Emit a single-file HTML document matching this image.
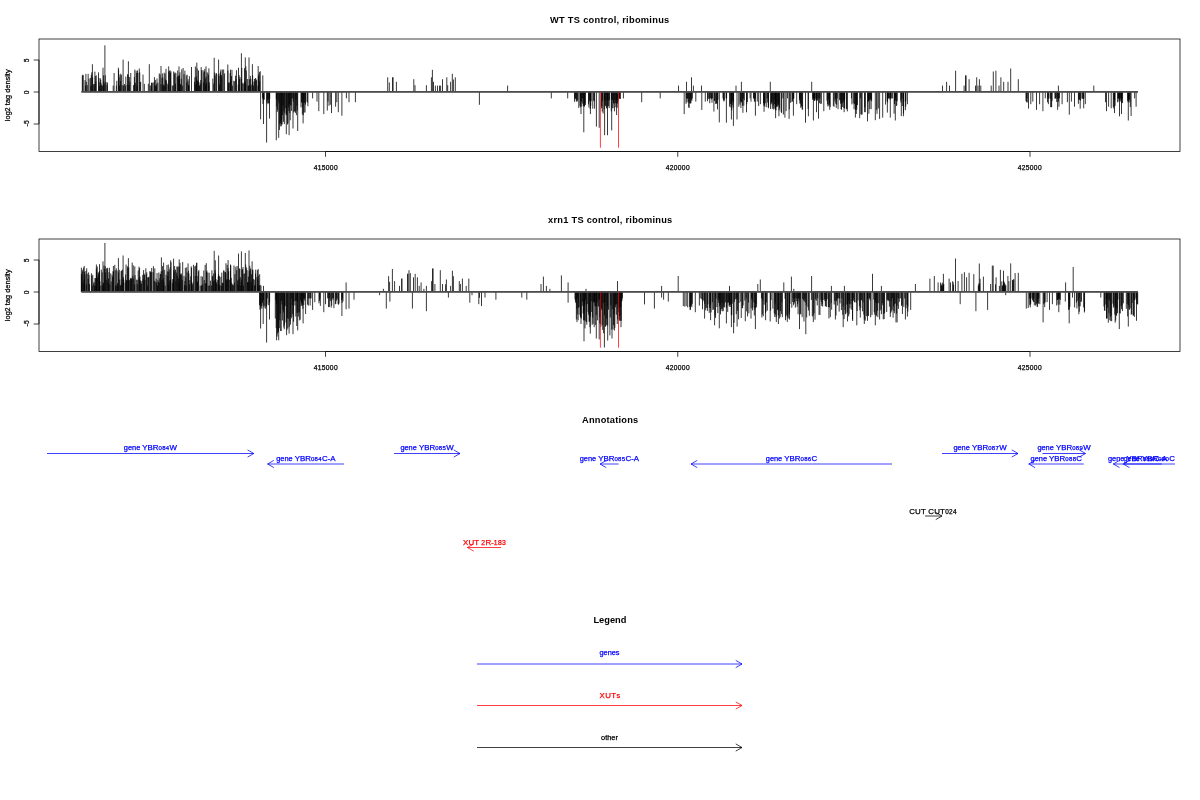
<!DOCTYPE html>
<html><head><meta charset="utf-8"><title>tracks</title>
<style>
html,body{margin:0;padding:0;background:#fff;overflow:hidden;width:1200px;height:800px;}
svg{display:block;font-family:"Liberation Sans", sans-serif;will-change:transform;transform:translateZ(0);}
</style></head><body>
<svg width="1200" height="800" viewBox="0 0 1200 800">
<rect width="1200" height="800" fill="#fff"/>
<rect x="39.0" y="39.0" width="1141.0" height="112.5" fill="none" stroke="#000" stroke-width="0.75"/>
<path d="M325.5 151.5H1030.0" stroke="#000" stroke-width="0.75" fill="none"/>
<path d="M325.5 151.5v5.3" stroke="#000" stroke-width="0.75" fill="none"/>
<text x="325.8" y="169.8" font-size="7.4" text-anchor="middle" stroke="#000" stroke-width="0.25"><tspan font-size="6.7" letter-spacing="0.33">415000</tspan></text>
<path d="M677.75 151.5v5.3" stroke="#000" stroke-width="0.75" fill="none"/>
<text x="677.8" y="169.8" font-size="7.4" text-anchor="middle" stroke="#000" stroke-width="0.25"><tspan font-size="6.7" letter-spacing="0.33">420000</tspan></text>
<path d="M1030.0 151.5v5.3" stroke="#000" stroke-width="0.75" fill="none"/>
<text x="1029.8" y="169.8" font-size="7.4" text-anchor="middle" stroke="#000" stroke-width="0.25"><tspan font-size="6.7" letter-spacing="0.33">425000</tspan></text>
<path d="M39.0 60.0V124.0" stroke="#000" stroke-width="0.75" fill="none"/>
<path d="M39.0 60.0h-5.3" stroke="#000" stroke-width="0.75" fill="none"/>
<text transform="translate(28.9 60.2) rotate(-90)" font-size="7.4" text-anchor="middle" stroke="#000" stroke-width="0.25"><tspan font-size="6.7" letter-spacing="0.33">5</tspan></text>
<path d="M39.0 92.0h-5.3" stroke="#000" stroke-width="0.75" fill="none"/>
<text transform="translate(28.9 92.2) rotate(-90)" font-size="7.4" text-anchor="middle" stroke="#000" stroke-width="0.25"><tspan font-size="6.7" letter-spacing="0.33">0</tspan></text>
<path d="M39.0 124.0h-5.3" stroke="#000" stroke-width="0.75" fill="none"/>
<text transform="translate(28.9 123.3) rotate(-90)" font-size="7.4" text-anchor="middle" stroke="#000" stroke-width="0.25"><tspan font-size="7.4">-</tspan><tspan font-size="6.7" letter-spacing="0.33">5</tspan></text>
<text transform="translate(10.2 95.25) rotate(-90)" font-size="7.4" text-anchor="middle" stroke="#000" stroke-width="0.25"><tspan font-size="7.4">log</tspan><tspan font-size="6.7" letter-spacing="0.33">2</tspan><tspan font-size="7.4">&#160;tag&#160;density</tspan></text>
<text x="609.8" y="22.8" font-size="9.25" font-weight="bold" text-anchor="middle" letter-spacing="0.29">WT TS control, ribominus</text>
<path d="M742.45 92.0V105.7M742.90 92.0V112.8M743.35 92.0V98.4M744.25 92.0V100.3M746.50 92.0V112.3M747.40 92.0V102.0M750.10 92.0V98.4M757.30 92.0V101.6M758.65 92.0V106.1M764.05 92.0V111.8M766.75 92.0V107.3M767.20 92.0V98.4M767.65 92.0V102.5M768.55 92.0V106.8M775.75 92.0V105.2M778.90 92.0V116.2M781.15 92.0V111.9M782.95 92.0V98.4M783.40 92.0V114.5M786.10 92.0V111.1M787.45 92.0V98.4M789.25 92.0V109.4M790.60 92.0V102.8M799.60 92.0V98.4M808.15 92.0V108.9M814.45 92.0V101.0M818.50 92.0V118.7M829.30 92.0V103.5M829.75 92.0V109.8M833.35 92.0V106.0M844.15 92.0V112.2M844.60 92.0V108.4M854.05 92.0V109.2M854.50 92.0V104.2M855.40 92.0V117.6M856.30 92.0V114.0M857.20 92.0V105.0M860.35 92.0V98.4M861.25 92.0V114.8M862.15 92.0V114.4M864.85 92.0V107.3M865.30 92.0V112.1M868.90 92.0V113.8M871.15 92.0V109.2M877.00 92.0V113.9M878.35 92.0V108.5M885.55 92.0V104.6M887.35 92.0V112.6M887.80 92.0V98.4M894.10 92.0V113.7M900.85 92.0V100.3M901.30 92.0V116.1M903.55 92.0V113.4M905.35 92.0V110.2M905.80 92.0V101.1M82.30 92.0V75.7M82.75 92.0V74.7M83.20 92.0V75.2M85.00 92.0V80.1M85.45 92.0V85.6M85.90 92.0V73.8M86.35 92.0V81.9M87.25 92.0V85.1M88.15 92.0V73.8M89.05 92.0V78.6M90.40 92.0V78.0M90.85 92.0V85.6M91.30 92.0V74.8M91.75 92.0V72.3M92.65 92.0V77.3M93.55 92.0V84.2M94.45 92.0V84.1M94.90 92.0V71.6M95.35 92.0V76.0M95.80 92.0V81.7M96.25 92.0V75.4M98.50 92.0V72.4M98.95 92.0V77.9M99.40 92.0V85.6M99.85 92.0V82.0M100.30 92.0V78.3M100.75 92.0V79.6M101.20 92.0V83.3M101.65 92.0V85.6M102.10 92.0V85.6M103.00 92.0V85.6M103.45 92.0V75.3M103.90 92.0V81.4M104.80 92.0V83.5M105.25 92.0V75.2M106.15 92.0V82.1M107.05 92.0V85.1M107.50 92.0V82.5M113.20 92.0V85.6M114.10 92.0V73.0M116.35 92.0V85.6M116.80 92.0V80.8M118.60 92.0V69.8M119.05 92.0V77.3M119.50 92.0V85.6M119.95 92.0V74.6M120.40 92.0V80.9M120.85 92.0V73.6M121.30 92.0V75.0M122.20 92.0V85.0M123.55 92.0V85.6M124.45 92.0V84.0M125.35 92.0V85.6M125.80 92.0V76.6M127.15 92.0V84.6M127.60 92.0V74.1M128.05 92.0V75.2M128.95 92.0V85.0M129.40 92.0V77.0M129.85 92.0V81.6M130.75 92.0V73.0M133.45 92.0V85.1M134.35 92.0V76.9M134.80 92.0V82.4M135.25 92.0V83.2M136.15 92.0V70.7M136.60 92.0V72.9M137.05 92.0V85.6M137.50 92.0V70.4M137.95 92.0V72.9M139.30 92.0V68.5M139.75 92.0V72.4M140.20 92.0V81.8M140.65 92.0V81.9M143.00 92.0V74.6M144.35 92.0V83.8M148.35 92.0V83.8M150.15 92.0V85.6M151.05 92.0V85.6M151.50 92.0V82.9M151.95 92.0V82.4M152.85 92.0V83.0M154.00 92.0V82.1M154.45 92.0V77.1M154.90 92.0V85.6M155.35 92.0V79.9M155.80 92.0V85.5M156.25 92.0V85.6M156.70 92.0V83.5M157.00 92.0V78.5M157.90 92.0V82.6M159.25 92.0V73.4M160.15 92.0V74.5M161.05 92.0V84.2M161.95 92.0V78.0M162.40 92.0V73.4M162.85 92.0V77.3M163.30 92.0V85.6M163.75 92.0V84.3M164.20 92.0V72.7M164.65 92.0V85.6M165.10 92.0V73.6M165.55 92.0V79.5M166.00 92.0V68.8M166.45 92.0V80.4M167.80 92.0V83.6M168.25 92.0V85.6M168.70 92.0V71.6M169.60 92.0V70.9M170.05 92.0V70.3M170.50 92.0V72.9M170.95 92.0V71.4M172.30 92.0V85.5M173.20 92.0V85.6M173.65 92.0V71.5M174.55 92.0V73.6M175.00 92.0V72.4M175.45 92.0V83.8M175.90 92.0V73.1M177.25 92.0V77.0M177.70 92.0V70.5M178.15 92.0V75.4M178.60 92.0V76.2M179.05 92.0V78.7M179.50 92.0V75.3M179.95 92.0V72.3M180.40 92.0V83.9M180.85 92.0V84.9M181.30 92.0V78.7M181.75 92.0V69.3M182.65 92.0V85.6M183.10 92.0V68.0M184.90 92.0V70.6M186.25 92.0V75.4M186.70 92.0V82.8M187.15 92.0V74.6M188.05 92.0V81.3M188.50 92.0V85.0M188.95 92.0V85.6M189.40 92.0V76.2M194.45 92.0V81.7M194.90 92.0V77.4M195.35 92.0V66.5M195.80 92.0V84.0M196.25 92.0V76.4M196.70 92.0V79.4M197.15 92.0V68.4M197.60 92.0V80.9M198.05 92.0V80.5M198.50 92.0V70.4M198.95 92.0V82.1M199.40 92.0V85.6M199.85 92.0V85.6M200.30 92.0V83.7M200.75 92.0V80.1M201.20 92.0V67.1M201.65 92.0V70.2M203.00 92.0V70.1M203.45 92.0V82.4M203.90 92.0V72.3M204.35 92.0V71.1M204.80 92.0V68.8M205.25 92.0V78.4M205.70 92.0V84.4M206.15 92.0V76.6M206.60 92.0V82.5M207.05 92.0V72.2M207.95 92.0V73.1M208.40 92.0V75.0M208.85 92.0V85.6M209.30 92.0V82.2M212.85 92.0V78.5M213.75 92.0V83.5M214.65 92.0V72.5M215.10 92.0V75.7M216.00 92.0V73.6M216.45 92.0V73.2M218.25 92.0V74.2M219.15 92.0V75.8M219.60 92.0V84.4M220.05 92.0V73.4M220.50 92.0V71.4M220.95 92.0V69.4M221.40 92.0V74.9M221.85 92.0V76.5M223.65 92.0V69.5M224.55 92.0V73.4M227.90 92.0V70.5M228.35 92.0V82.4M228.80 92.0V83.5M229.70 92.0V82.3M230.15 92.0V73.1M230.60 92.0V80.8M231.50 92.0V76.1M231.95 92.0V69.8M232.40 92.0V85.6M233.75 92.0V80.8M234.65 92.0V81.3M235.55 92.0V75.7M236.00 92.0V79.5M236.45 92.0V70.2M238.25 92.0V84.5M239.15 92.0V75.2M239.60 92.0V79.0M240.00 92.0V77.1M241.35 92.0V79.1M241.80 92.0V67.9M242.25 92.0V83.0M243.15 92.0V83.9M244.05 92.0V82.5M244.50 92.0V68.2M244.95 92.0V81.5M245.40 92.0V83.5M245.85 92.0V66.3M246.30 92.0V70.5M247.65 92.0V79.0M248.10 92.0V85.6M248.55 92.0V85.6M249.45 92.0V79.2M249.90 92.0V85.6M250.35 92.0V75.8M250.80 92.0V78.9M251.25 92.0V84.7M252.60 92.0V75.4M253.05 92.0V81.6M253.50 92.0V85.6M254.40 92.0V79.0M254.85 92.0V81.5M255.30 92.0V78.1M255.75 92.0V78.3M256.20 92.0V80.7M256.65 92.0V79.7M258.00 92.0V85.6M258.45 92.0V76.2M258.90 92.0V74.2M259.35 92.0V72.0M259.80 92.0V81.4M260.25 92.0V71.2M262.50 92.0V98.4M262.95 92.0V104.0M263.40 92.0V99.8M264.30 92.0V99.7M267.00 92.0V102.8M267.45 92.0V100.5M267.90 92.0V104.2M268.35 92.0V103.1M268.80 92.0V99.1M269.25 92.0V103.2M269.70 92.0V98.9M276.30 92.0V99.1M276.75 92.0V106.5M277.20 92.0V112.1M277.65 92.0V110.1M278.10 92.0V100.8M279.00 92.0V103.3M279.45 92.0V129.9M279.90 92.0V124.3M280.35 92.0V122.6M280.80 92.0V126.5M281.25 92.0V126.1M281.70 92.0V119.4M282.15 92.0V124.5M282.60 92.0V115.2M283.00 92.0V105.3M283.45 92.0V121.8M283.90 92.0V111.3M284.35 92.0V124.1M284.80 92.0V113.2M285.25 92.0V108.2M286.15 92.0V115.2M286.60 92.0V114.5M287.50 92.0V124.5M287.95 92.0V123.3M288.40 92.0V107.3M288.85 92.0V110.9M289.30 92.0V103.8M289.75 92.0V113.0M290.20 92.0V120.3M290.65 92.0V105.5M291.00 92.0V105.0M291.45 92.0V110.9M291.90 92.0V98.4M292.80 92.0V98.5M293.25 92.0V101.7M293.70 92.0V112.6M294.60 92.0V111.6M295.05 92.0V111.1M295.50 92.0V112.8M295.95 92.0V99.7M296.40 92.0V115.2M296.85 92.0V105.9M297.30 92.0V110.3M301.00 92.0V107.4M301.45 92.0V102.0M301.90 92.0V102.9M302.35 92.0V114.4M302.80 92.0V106.8M303.25 92.0V115.3M303.70 92.0V102.7M304.15 92.0V112.5M304.60 92.0V103.0M305.05 92.0V112.5M305.50 92.0V104.7M305.95 92.0V101.9M307.45 92.0V102.5M307.90 92.0V106.2M574.50 92.0V101.7M574.95 92.0V98.4M575.40 92.0V98.4M575.85 92.0V99.3M576.30 92.0V101.7M576.75 92.0V100.6M577.20 92.0V101.6M577.65 92.0V100.1M580.00 92.0V105.8M580.45 92.0V107.2M580.90 92.0V101.0M581.35 92.0V101.6M581.80 92.0V106.5M582.25 92.0V98.4M582.70 92.0V103.6M583.15 92.0V98.4M583.60 92.0V106.2M584.05 92.0V106.1M584.50 92.0V106.6M584.95 92.0V103.3M585.40 92.0V105.1M588.50 92.0V104.4M588.95 92.0V107.6M589.40 92.0V100.2M589.85 92.0V101.8M590.30 92.0V109.1M590.75 92.0V105.8M591.20 92.0V101.2M592.80 92.0V108.7M593.70 92.0V100.7M594.15 92.0V101.3M594.60 92.0V108.7M601.30 92.0V108.3M601.75 92.0V106.4M602.20 92.0V111.6M602.65 92.0V101.1M603.10 92.0V113.6M604.20 92.0V109.1M604.65 92.0V100.2M605.10 92.0V105.0M605.55 92.0V106.1M606.00 92.0V100.6M606.45 92.0V107.9M606.90 92.0V108.6M607.35 92.0V99.4M607.80 92.0V105.9M608.25 92.0V100.5M608.70 92.0V106.2M609.15 92.0V108.1M609.60 92.0V100.2M611.30 92.0V111.4M611.75 92.0V99.0M612.20 92.0V108.2M612.65 92.0V100.1M613.10 92.0V108.2M613.55 92.0V103.3M614.00 92.0V103.5M614.45 92.0V111.4M614.90 92.0V100.1M615.35 92.0V102.9M615.80 92.0V107.3M616.25 92.0V103.7M616.70 92.0V99.8M617.15 92.0V107.8M617.60 92.0V103.5M618.05 92.0V100.7M619.00 92.0V98.4M619.45 92.0V98.4M619.90 92.0V98.9M620.35 92.0V98.9M686.00 92.0V103.8M686.45 92.0V98.4M686.90 92.0V102.3M687.35 92.0V98.4M687.80 92.0V99.0M688.25 92.0V102.3M688.70 92.0V107.3M689.15 92.0V108.0M689.60 92.0V103.3M690.05 92.0V98.4M690.50 92.0V103.5M690.95 92.0V103.2M691.40 92.0V99.7M691.85 92.0V100.9M692.30 92.0V98.4M707.50 92.0V101.2M707.95 92.0V98.4M708.85 92.0V99.2M709.30 92.0V98.4M709.75 92.0V103.2M710.65 92.0V98.4M711.10 92.0V98.4M711.55 92.0V99.3M712.00 92.0V102.7M712.45 92.0V98.4M713.90 92.0V111.6M714.35 92.0V100.8M714.80 92.0V101.0M715.70 92.0V103.9M716.15 92.0V103.6M716.60 92.0V103.0M717.05 92.0V104.1M717.50 92.0V109.4M717.95 92.0V99.8M723.00 92.0V98.4M723.45 92.0V100.2M723.90 92.0V101.5M724.35 92.0V100.5M726.15 92.0V98.4M726.60 92.0V98.4M729.50 92.0V106.6M730.40 92.0V103.9M730.85 92.0V107.5M731.30 92.0V103.4M731.75 92.0V110.4M732.20 92.0V105.2M732.65 92.0V101.2M733.10 92.0V107.7M733.55 92.0V102.6M740.00 92.0V104.5M740.45 92.0V101.7M740.90 92.0V108.1M741.35 92.0V101.9M741.80 92.0V102.4M753.50 92.0V98.4M753.95 92.0V98.4M754.40 92.0V101.7M754.85 92.0V101.3M755.30 92.0V98.7M763.50 92.0V103.4M763.95 92.0V105.8M764.40 92.0V105.3M764.85 92.0V106.9M765.30 92.0V103.2M770.60 92.0V109.0M771.05 92.0V104.3M771.50 92.0V102.5M771.95 92.0V103.5M772.40 92.0V108.7M772.85 92.0V101.3M773.30 92.0V105.6M773.75 92.0V109.5M774.20 92.0V108.6M774.65 92.0V104.0M775.10 92.0V99.7M775.55 92.0V109.5M776.00 92.0V110.4M776.45 92.0V106.9M776.90 92.0V105.9M777.35 92.0V106.8M777.80 92.0V103.4M778.25 92.0V105.6M778.70 92.0V104.7M779.15 92.0V110.4M779.60 92.0V108.3M792.00 92.0V102.0M792.45 92.0V101.2M792.90 92.0V98.7M793.35 92.0V99.2M793.80 92.0V98.4M799.45 92.0V100.3M799.90 92.0V103.5M800.35 92.0V103.5M800.80 92.0V107.9M801.25 92.0V106.5M801.70 92.0V106.2M802.15 92.0V109.6M802.60 92.0V109.6M812.60 92.0V99.7M813.05 92.0V98.4M813.50 92.0V98.4M813.95 92.0V100.3M814.40 92.0V98.4M814.85 92.0V100.2M815.75 92.0V98.8M816.20 92.0V100.5M816.65 92.0V100.3M817.10 92.0V98.7M817.55 92.0V100.6M819.00 92.0V98.4M819.45 92.0V103.2M819.90 92.0V98.5M820.80 92.0V104.0M821.25 92.0V103.6M827.00 92.0V100.7M827.45 92.0V104.3M827.90 92.0V106.5M828.35 92.0V99.3M828.80 92.0V105.6M829.25 92.0V104.8M830.15 92.0V107.0M834.00 92.0V106.8M834.90 92.0V101.5M835.35 92.0V99.0M835.80 92.0V103.8M836.25 92.0V107.9M836.70 92.0V104.6M837.15 92.0V98.4M838.05 92.0V109.2M839.70 92.0V99.9M840.15 92.0V100.6M840.60 92.0V103.7M841.05 92.0V109.1M841.50 92.0V109.8M841.95 92.0V103.1M842.40 92.0V107.0M842.85 92.0V103.1M843.30 92.0V100.5M843.75 92.0V108.0M844.20 92.0V101.4M844.65 92.0V99.6M846.45 92.0V109.3M846.90 92.0V108.7M847.35 92.0V111.4M851.45 92.0V98.4M851.90 92.0V104.4M853.25 92.0V103.3M855.40 92.0V109.8M856.30 92.0V107.5M856.75 92.0V109.9M857.20 92.0V104.9M868.00 92.0V102.2M868.45 92.0V101.1M868.90 92.0V101.0M869.35 92.0V99.6M869.80 92.0V109.0M870.25 92.0V98.7M870.70 92.0V100.3M871.15 92.0V99.2M871.60 92.0V101.2M887.15 92.0V101.3M887.60 92.0V102.3M888.05 92.0V98.4M888.50 92.0V98.4M889.60 92.0V98.4M890.05 92.0V99.7M890.50 92.0V98.4M890.95 92.0V98.4M891.85 92.0V98.4M892.30 92.0V98.4M894.50 92.0V104.0M894.95 92.0V100.4M895.40 92.0V98.4M895.85 92.0V100.8M896.30 92.0V106.0M896.75 92.0V105.4M897.20 92.0V101.1M901.00 92.0V102.5M901.90 92.0V98.4M902.35 92.0V106.1M903.70 92.0V101.8M1026.00 92.0V100.9M1026.45 92.0V102.2M1026.90 92.0V98.4M1027.35 92.0V102.4M1047.50 92.0V102.3M1047.95 92.0V98.6M1048.40 92.0V104.2M1048.85 92.0V98.4M1050.30 92.0V98.8M1050.75 92.0V107.2M1051.20 92.0V107.2M1051.65 92.0V107.0M1052.10 92.0V100.8M1054.95 92.0V98.6M1055.40 92.0V98.4M1055.85 92.0V98.4M1056.70 92.0V102.0M1057.15 92.0V98.4M1057.60 92.0V109.8M1058.05 92.0V98.4M1058.50 92.0V101.6M1058.95 92.0V106.7M1059.40 92.0V98.4M1078.40 92.0V103.8M1078.85 92.0V99.5M1079.30 92.0V99.3M1079.75 92.0V100.0M1080.20 92.0V108.7M1080.65 92.0V100.7M1082.00 92.0V98.4M1082.45 92.0V98.8M1083.35 92.0V99.0M1083.80 92.0V98.4M1113.30 92.0V107.0M1113.75 92.0V108.6M1114.20 92.0V99.1M1114.65 92.0V100.4M1115.10 92.0V105.9M1117.60 92.0V102.3M1118.05 92.0V98.7M1118.50 92.0V98.4M1118.95 92.0V101.6M1119.40 92.0V98.4M1119.85 92.0V100.2M1120.30 92.0V98.4M1120.75 92.0V101.5M1121.20 92.0V98.4M1121.65 92.0V102.9M1122.10 92.0V99.0M1122.55 92.0V103.1M1127.60 92.0V100.8M1128.05 92.0V102.4M1128.50 92.0V101.4M1128.95 92.0V98.7M1129.40 92.0V99.8M1129.85 92.0V102.3M1130.30 92.0V107.1M1134.65 92.0V98.4M92.40 92.0V64.2M104.90 92.0V45.3M103.00 92.0V67.7M118.40 92.0V67.7M123.10 92.0V59.6M128.40 92.0V61.3M134.80 92.0V69.6M149.30 92.0V64.2M161.00 92.0V66.0M168.70 92.0V66.4M179.00 92.0V66.4M184.00 92.0V74.1M188.00 92.0V79.2M191.50 92.0V67.0M196.80 92.0V62.6M206.00 92.0V66.4M208.90 92.0V68.3M214.20 92.0V57.8M218.60 92.0V59.6M222.40 92.0V69.6M227.80 92.0V64.5M230.50 92.0V69.6M238.50 92.0V67.7M241.40 92.0V53.2M245.30 92.0V57.4M249.00 92.0V57.4M252.40 92.0V64.2M258.20 92.0V66.0M262.80 92.0V75.4M260.60 92.0V119.3M263.50 92.0V124.0M266.60 92.0V142.6M269.50 92.0V118.6M276.30 92.0V140.3M278.70 92.0V137.8M281.30 92.0V124.0M286.30 92.0V134.2M289.10 92.0V135.2M293.00 92.0V128.5M297.70 92.0V131.0M303.10 92.0V123.4M312.60 92.0V98.4M317.00 92.0V101.6M318.80 92.0V111.2M323.80 92.0V114.1M327.30 92.0V110.6M329.00 92.0V105.8M331.50 92.0V113.1M328.00 92.0V101.6M330.30 92.0V104.8M335.60 92.0V106.7M336.80 92.0V102.2M338.30 92.0V112.2M341.90 92.0V115.7M346.40 92.0V98.4M349.00 92.0V102.2M355.40 92.0V102.2M387.70 92.0V77.3M389.30 92.0V82.4M392.50 92.0V77.3M393.10 92.0V77.3M396.40 92.0V81.8M413.80 92.0V79.2M415.00 92.0V85.2M426.40 92.0V85.2M431.40 92.0V77.3M432.40 92.0V69.8M433.50 92.0V81.8M435.40 92.0V85.6M437.50 92.0V85.6M439.50 92.0V85.6M440.60 92.0V85.6M442.50 92.0V79.2M446.80 92.0V77.3M447.70 92.0V85.2M450.60 92.0V81.8M452.30 92.0V73.8M453.40 92.0V79.5M455.30 92.0V77.3M479.40 92.0V104.8M507.60 92.0V85.6M551.30 92.0V98.4M567.70 92.0V98.4M578.80 92.0V108.0M581.00 92.0V114.1M583.80 92.0V132.3M596.40 92.0V126.6M599.20 92.0V127.8M590.40 92.0V114.1M604.60 92.0V135.2M607.50 92.0V135.2M611.70 92.0V130.4M616.60 92.0V115.0M623.40 92.0V98.4M641.70 92.0V102.2M660.20 92.0V98.4M678.50 92.0V85.6M686.50 92.0V81.8M691.50 92.0V77.3M693.40 92.0V85.6M701.50 92.0V85.6M736.00 92.0V85.6M741.40 92.0V81.8M770.30 92.0V81.8M811.70 92.0V81.8M684.20 92.0V114.1M695.80 92.0V101.6M701.80 92.0V109.9M705.30 92.0V101.6M719.30 92.0V122.4M726.40 92.0V122.7M731.40 92.0V119.5M733.40 92.0V125.9M737.00 92.0V119.5M738.80 92.0V106.7M743.80 92.0V105.8M746.70 92.0V104.2M751.00 92.0V101.6M755.40 92.0V115.7M760.40 92.0V104.2M768.50 92.0V108.3M775.60 92.0V118.2M781.60 92.0V113.1M784.90 92.0V117.6M789.10 92.0V118.9M793.40 92.0V115.7M796.70 92.0V104.2M805.50 92.0V122.7M808.40 92.0V116.3M813.40 92.0V120.5M816.50 92.0V112.2M823.80 92.0V111.2M859.70 92.0V118.2M861.00 92.0V114.1M864.60 92.0V112.2M867.50 92.0V121.4M875.30 92.0V120.2M876.70 92.0V109.9M879.60 92.0V118.9M882.70 92.0V117.6M890.30 92.0V117.6M895.30 92.0V120.5M903.40 92.0V116.3M905.70 92.0V106.7M907.40 92.0V104.2M942.50 92.0V85.6M946.60 92.0V81.8M949.50 92.0V85.6M955.60 92.0V70.7M964.10 92.0V85.6M965.50 92.0V75.4M966.10 92.0V75.4M969.10 92.0V79.2M975.50 92.0V85.6M976.70 92.0V77.3M978.00 92.0V85.6M979.40 92.0V79.2M980.80 92.0V85.6M991.20 92.0V85.6M993.30 92.0V71.5M995.90 92.0V70.7M999.00 92.0V85.6M1000.90 92.0V77.3M1003.70 92.0V81.8M1008.00 92.0V81.8M1010.70 92.0V68.5M1018.30 92.0V79.2M1058.40 92.0V85.6M1093.80 92.0V85.6M1028.50 92.0V108.6M1030.80 92.0V104.2M1032.80 92.0V101.6M1036.50 92.0V109.9M1039.60 92.0V104.2M1042.90 92.0V111.2M1045.30 92.0V98.4M1062.10 92.0V104.2M1067.40 92.0V102.2M1069.30 92.0V114.7M1071.40 92.0V101.6M1074.50 92.0V106.7M1083.70 92.0V108.3M1085.30 92.0V104.2M1105.50 92.0V102.2M1106.50 92.0V111.2M1108.60 92.0V106.7M1111.20 92.0V108.3M1114.50 92.0V113.1M1119.50 92.0V116.3M1121.50 92.0V114.1M1128.30 92.0V120.5M1131.10 92.0V116.0M1136.10 92.0V106.7" stroke="#000" stroke-width="0.78" fill="none"/>
<rect x="81.3" y="91.0" width="1056.7" height="1.8" fill="#4d4d4d"/>
<path d="M600.4 92.0V147.7" stroke="#f00" stroke-width="0.75" fill="none"/>
<path d="M618.5 92.0V147.7" stroke="#f00" stroke-width="0.75" fill="none"/>
<rect x="39.0" y="239.0" width="1141.0" height="112.5" fill="none" stroke="#000" stroke-width="0.75"/>
<path d="M325.5 351.5H1030.0" stroke="#000" stroke-width="0.75" fill="none"/>
<path d="M325.5 351.5v5.3" stroke="#000" stroke-width="0.75" fill="none"/>
<text x="325.8" y="369.8" font-size="7.4" text-anchor="middle" stroke="#000" stroke-width="0.25"><tspan font-size="6.7" letter-spacing="0.33">415000</tspan></text>
<path d="M677.75 351.5v5.3" stroke="#000" stroke-width="0.75" fill="none"/>
<text x="677.8" y="369.8" font-size="7.4" text-anchor="middle" stroke="#000" stroke-width="0.25"><tspan font-size="6.7" letter-spacing="0.33">420000</tspan></text>
<path d="M1030.0 351.5v5.3" stroke="#000" stroke-width="0.75" fill="none"/>
<text x="1029.8" y="369.8" font-size="7.4" text-anchor="middle" stroke="#000" stroke-width="0.25"><tspan font-size="6.7" letter-spacing="0.33">425000</tspan></text>
<path d="M39.0 260.0V324.0" stroke="#000" stroke-width="0.75" fill="none"/>
<path d="M39.0 260.0h-5.3" stroke="#000" stroke-width="0.75" fill="none"/>
<text transform="translate(28.9 260.2) rotate(-90)" font-size="7.4" text-anchor="middle" stroke="#000" stroke-width="0.25"><tspan font-size="6.7" letter-spacing="0.33">5</tspan></text>
<path d="M39.0 292.0h-5.3" stroke="#000" stroke-width="0.75" fill="none"/>
<text transform="translate(28.9 292.2) rotate(-90)" font-size="7.4" text-anchor="middle" stroke="#000" stroke-width="0.25"><tspan font-size="6.7" letter-spacing="0.33">0</tspan></text>
<path d="M39.0 324.0h-5.3" stroke="#000" stroke-width="0.75" fill="none"/>
<text transform="translate(28.9 323.3) rotate(-90)" font-size="7.4" text-anchor="middle" stroke="#000" stroke-width="0.25"><tspan font-size="7.4">-</tspan><tspan font-size="6.7" letter-spacing="0.33">5</tspan></text>
<text transform="translate(10.2 295.25) rotate(-90)" font-size="7.4" text-anchor="middle" stroke="#000" stroke-width="0.25"><tspan font-size="7.4">log</tspan><tspan font-size="6.7" letter-spacing="0.33">2</tspan><tspan font-size="7.4">&#160;tag&#160;density</tspan></text>
<text x="610.3" y="222.8" font-size="9.25" font-weight="bold" text-anchor="middle" letter-spacing="0.26">xrn1 TS control, ribominus</text>
<path d="M81.40 292.0V273.9M81.85 292.0V276.2M82.30 292.0V271.5M82.75 292.0V269.7M83.20 292.0V283.3M83.65 292.0V267.6M84.10 292.0V279.6M84.55 292.0V271.7M85.00 292.0V274.5M85.90 292.0V271.0M86.35 292.0V284.5M87.25 292.0V273.7M88.15 292.0V278.9M88.60 292.0V272.4M89.05 292.0V274.9M89.50 292.0V284.1M91.40 292.0V273.3M91.85 292.0V275.8M92.30 292.0V285.6M92.75 292.0V274.8M93.65 292.0V283.3M94.10 292.0V281.9M94.55 292.0V285.6M95.00 292.0V278.0M95.45 292.0V278.2M95.90 292.0V285.6M96.35 292.0V268.6M96.80 292.0V272.0M97.25 292.0V266.6M97.70 292.0V277.5M98.15 292.0V274.9M98.60 292.0V272.8M99.05 292.0V271.8M99.50 292.0V271.2M99.95 292.0V281.2M100.85 292.0V285.6M101.30 292.0V269.6M102.20 292.0V272.4M102.65 292.0V285.3M103.10 292.0V282.5M103.55 292.0V283.2M104.00 292.0V265.5M104.45 292.0V268.9M105.35 292.0V272.5M106.25 292.0V279.8M106.70 292.0V268.3M107.15 292.0V269.1M107.60 292.0V267.8M108.05 292.0V282.6M108.50 292.0V278.5M108.95 292.0V272.2M109.40 292.0V267.8M109.85 292.0V284.5M110.75 292.0V273.3M111.20 292.0V281.4M112.10 292.0V274.9M112.55 292.0V276.9M113.00 292.0V271.2M113.45 292.0V271.6M114.80 292.0V264.8M115.25 292.0V270.3M115.70 292.0V285.6M116.15 292.0V285.6M117.05 292.0V270.5M117.50 292.0V283.0M117.95 292.0V285.6M118.40 292.0V272.5M119.30 292.0V269.8M119.75 292.0V279.5M120.20 292.0V284.9M120.65 292.0V285.6M121.10 292.0V271.1M121.55 292.0V270.6M122.00 292.0V283.2M122.45 292.0V269.6M122.90 292.0V278.8M123.35 292.0V277.0M123.80 292.0V279.6M125.15 292.0V282.6M125.60 292.0V274.5M126.05 292.0V264.5M126.50 292.0V280.2M126.95 292.0V280.3M127.40 292.0V266.3M127.85 292.0V267.9M128.30 292.0V279.9M128.75 292.0V267.3M129.65 292.0V280.2M130.10 292.0V279.4M130.55 292.0V277.9M131.00 292.0V279.1M131.45 292.0V278.5M131.90 292.0V278.4M132.80 292.0V275.7M133.25 292.0V265.3M133.70 292.0V278.4M134.60 292.0V284.4M135.05 292.0V275.2M136.40 292.0V279.6M137.30 292.0V284.1M137.75 292.0V279.9M138.20 292.0V270.5M139.10 292.0V277.9M139.55 292.0V268.0M140.00 292.0V276.6M140.45 292.0V280.4M140.90 292.0V283.3M141.35 292.0V283.8M141.80 292.0V280.9M142.70 292.0V274.9M143.15 292.0V279.2M143.60 292.0V270.1M144.05 292.0V273.6M144.50 292.0V274.9M144.95 292.0V280.0M145.85 292.0V268.3M146.30 292.0V274.2M146.75 292.0V272.3M147.20 292.0V277.3M147.65 292.0V285.6M148.10 292.0V277.7M148.55 292.0V277.3M149.00 292.0V276.7M149.90 292.0V271.0M150.35 292.0V272.1M150.80 292.0V271.7M151.25 292.0V272.3M151.70 292.0V268.0M153.00 292.0V272.1M153.45 292.0V266.2M154.35 292.0V280.8M154.80 292.0V268.4M155.25 292.0V281.7M156.15 292.0V278.6M156.60 292.0V282.5M157.05 292.0V273.0M157.50 292.0V285.6M157.95 292.0V280.1M158.40 292.0V281.8M158.85 292.0V272.4M159.30 292.0V282.7M159.75 292.0V278.3M160.20 292.0V274.2M160.65 292.0V273.9M161.10 292.0V271.4M162.00 292.0V279.9M162.45 292.0V266.1M162.90 292.0V270.6M163.35 292.0V278.3M163.80 292.0V282.0M164.70 292.0V269.8M165.15 292.0V285.6M166.05 292.0V274.7M166.95 292.0V265.0M167.40 292.0V271.4M167.85 292.0V276.4M168.30 292.0V284.7M168.75 292.0V271.8M169.20 292.0V269.5M169.65 292.0V280.7M170.10 292.0V267.4M170.55 292.0V280.1M171.00 292.0V262.3M172.35 292.0V282.8M172.80 292.0V279.1M173.25 292.0V279.3M173.70 292.0V269.8M174.15 292.0V271.7M174.60 292.0V266.1M175.50 292.0V269.6M175.95 292.0V281.0M176.40 292.0V272.6M176.85 292.0V266.5M177.30 292.0V275.6M177.75 292.0V266.9M178.20 292.0V266.3M178.65 292.0V278.3M179.10 292.0V282.7M179.55 292.0V266.7M180.00 292.0V262.9M180.45 292.0V274.2M180.90 292.0V274.6M181.35 292.0V273.4M181.80 292.0V275.8M182.25 292.0V279.9M182.70 292.0V262.0M184.00 292.0V275.8M184.45 292.0V285.2M184.90 292.0V281.0M185.35 292.0V267.8M185.80 292.0V277.2M186.25 292.0V285.6M186.70 292.0V267.3M187.15 292.0V272.4M188.05 292.0V263.4M188.50 292.0V270.7M188.95 292.0V273.5M189.40 292.0V284.3M189.85 292.0V280.0M190.75 292.0V276.3M191.20 292.0V266.3M191.65 292.0V282.1M192.55 292.0V284.4M193.00 292.0V282.6M193.45 292.0V264.8M194.80 292.0V266.3M195.25 292.0V276.0M195.70 292.0V265.7M196.60 292.0V263.0M197.05 292.0V280.9M197.50 292.0V282.3M197.95 292.0V275.9M198.40 292.0V271.4M198.85 292.0V270.1M200.20 292.0V285.6M201.10 292.0V276.1M201.55 292.0V285.6M202.00 292.0V285.6M202.45 292.0V276.7M202.90 292.0V284.0M203.80 292.0V270.5M204.25 292.0V280.1M205.15 292.0V264.9M205.60 292.0V283.1M206.05 292.0V283.9M206.50 292.0V271.9M206.95 292.0V270.6M207.85 292.0V272.6M208.30 292.0V285.6M209.20 292.0V272.7M209.65 292.0V285.6M210.55 292.0V280.7M211.45 292.0V285.6M211.90 292.0V270.3M212.35 292.0V276.4M212.80 292.0V275.7M213.25 292.0V281.5M213.70 292.0V273.5M214.15 292.0V280.4M215.05 292.0V270.1M215.50 292.0V272.8M215.95 292.0V279.0M216.40 292.0V282.3M216.85 292.0V284.1M217.30 292.0V280.2M218.20 292.0V276.5M218.65 292.0V274.3M219.10 292.0V284.4M219.55 292.0V276.2M220.00 292.0V285.6M220.90 292.0V276.9M221.35 292.0V285.6M221.80 292.0V272.6M222.25 292.0V283.0M222.70 292.0V282.6M223.15 292.0V283.4M223.60 292.0V270.4M224.05 292.0V270.8M224.95 292.0V272.1M225.40 292.0V272.0M225.85 292.0V273.4M226.30 292.0V279.5M226.75 292.0V280.8M227.20 292.0V264.9M227.65 292.0V279.0M228.10 292.0V268.1M228.55 292.0V271.4M229.45 292.0V279.7M230.35 292.0V271.0M230.80 292.0V265.4M231.25 292.0V277.9M231.70 292.0V282.7M232.40 292.0V284.2M232.85 292.0V285.6M233.30 292.0V285.0M234.00 292.0V265.5M234.45 292.0V282.6M234.90 292.0V274.1M235.80 292.0V266.8M236.70 292.0V270.0M237.15 292.0V266.0M237.60 292.0V280.4M238.05 292.0V284.6M238.95 292.0V278.8M239.40 292.0V268.4M239.85 292.0V268.9M240.30 292.0V277.2M240.75 292.0V285.6M241.20 292.0V282.1M241.65 292.0V279.7M242.10 292.0V269.6M242.55 292.0V269.2M243.00 292.0V267.0M243.45 292.0V285.5M243.90 292.0V273.7M244.35 292.0V273.5M245.70 292.0V264.6M246.60 292.0V267.5M247.05 292.0V270.2M247.50 292.0V282.2M247.95 292.0V282.2M248.40 292.0V276.6M248.85 292.0V282.2M249.30 292.0V271.0M249.75 292.0V265.7M250.20 292.0V269.4M250.65 292.0V268.4M251.10 292.0V281.6M251.55 292.0V274.2M252.00 292.0V285.6M252.45 292.0V269.9M252.90 292.0V269.7M253.35 292.0V279.0M254.25 292.0V279.6M254.70 292.0V285.6M255.15 292.0V284.7M255.60 292.0V273.5M256.95 292.0V277.0M257.40 292.0V270.2M257.85 292.0V279.4M258.30 292.0V275.6M258.75 292.0V285.6M259.20 292.0V285.6M259.65 292.0V274.2M260.10 292.0V284.9M261.00 292.0V285.6M259.50 292.0V305.2M259.95 292.0V309.7M260.40 292.0V304.0M260.85 292.0V306.6M261.30 292.0V306.4M261.75 292.0V308.7M262.20 292.0V301.5M262.65 292.0V303.1M263.10 292.0V305.7M263.55 292.0V299.9M264.00 292.0V307.8M264.90 292.0V306.1M265.35 292.0V308.8M266.45 292.0V306.6M266.90 292.0V304.6M267.35 292.0V298.4M268.70 292.0V305.2M269.60 292.0V302.4M275.30 292.0V318.5M275.75 292.0V300.1M276.20 292.0V328.1M276.65 292.0V304.0M277.10 292.0V336.5M277.55 292.0V333.4M278.00 292.0V329.8M278.45 292.0V332.1M279.35 292.0V328.2M279.80 292.0V320.3M280.25 292.0V313.8M280.70 292.0V331.1M281.15 292.0V331.0M281.60 292.0V300.9M282.00 292.0V304.5M282.45 292.0V320.5M282.90 292.0V309.6M283.35 292.0V312.5M283.80 292.0V327.4M284.25 292.0V329.3M284.70 292.0V306.6M285.15 292.0V306.1M286.05 292.0V322.5M286.95 292.0V329.8M287.40 292.0V318.1M287.85 292.0V328.4M288.30 292.0V318.8M289.20 292.0V326.8M290.00 292.0V321.2M290.45 292.0V324.7M290.90 292.0V316.6M291.35 292.0V318.3M291.80 292.0V298.9M292.25 292.0V305.1M292.70 292.0V314.0M293.15 292.0V316.8M293.60 292.0V321.8M294.05 292.0V301.2M294.95 292.0V305.5M295.40 292.0V300.9M295.85 292.0V316.6M296.30 292.0V300.7M296.75 292.0V326.0M297.00 292.0V312.8M297.45 292.0V301.7M297.90 292.0V312.6M298.35 292.0V316.5M299.25 292.0V312.4M299.70 292.0V320.4M300.15 292.0V319.6M300.60 292.0V300.5M301.05 292.0V305.8M301.50 292.0V303.1M301.95 292.0V306.1M302.00 292.0V303.6M302.45 292.0V305.3M302.90 292.0V308.9M303.35 292.0V298.4M303.80 292.0V305.0M304.25 292.0V298.6M304.70 292.0V300.7M305.15 292.0V298.4M305.60 292.0V314.0M307.45 292.0V304.7M308.35 292.0V305.6M308.80 292.0V298.4M309.25 292.0V298.4M310.15 292.0V305.5M310.60 292.0V298.4M311.05 292.0V298.4M319.00 292.0V303.3M319.45 292.0V301.0M319.90 292.0V298.4M320.35 292.0V305.9M327.60 292.0V298.4M328.50 292.0V307.1M328.95 292.0V298.4M329.40 292.0V307.0M329.85 292.0V298.4M330.30 292.0V301.0M331.20 292.0V307.6M331.65 292.0V305.6M332.55 292.0V298.4M333.00 292.0V300.2M333.45 292.0V298.4M333.90 292.0V308.2M335.40 292.0V304.2M335.85 292.0V303.8M336.30 292.0V300.9M336.75 292.0V298.4M337.20 292.0V299.5M338.10 292.0V303.9M338.55 292.0V304.8M339.00 292.0V303.5M341.65 292.0V300.1M342.10 292.0V303.0M342.55 292.0V298.4M343.00 292.0V301.4M575.00 292.0V299.3M575.45 292.0V301.8M575.90 292.0V303.1M576.35 292.0V319.4M576.80 292.0V308.7M577.25 292.0V298.4M577.70 292.0V314.3M578.15 292.0V320.2M578.60 292.0V307.7M579.05 292.0V307.2M579.95 292.0V314.9M580.40 292.0V317.4M580.85 292.0V317.2M581.30 292.0V318.7M582.20 292.0V305.9M582.65 292.0V301.7M583.10 292.0V313.5M583.55 292.0V320.3M584.00 292.0V312.7M584.45 292.0V320.4M584.90 292.0V304.6M585.00 292.0V328.4M585.45 292.0V300.3M585.90 292.0V321.4M586.35 292.0V322.1M586.80 292.0V324.7M587.25 292.0V304.1M588.15 292.0V311.9M588.60 292.0V314.8M589.05 292.0V321.8M589.50 292.0V321.7M589.95 292.0V327.2M590.40 292.0V316.6M591.30 292.0V301.3M591.75 292.0V312.0M592.20 292.0V324.8M592.65 292.0V317.5M593.10 292.0V323.7M593.55 292.0V301.8M594.00 292.0V302.9M594.45 292.0V301.8M594.90 292.0V305.9M595.35 292.0V325.0M595.80 292.0V306.4M596.25 292.0V315.1M596.70 292.0V306.7M597.15 292.0V302.5M597.60 292.0V320.3M598.50 292.0V306.5M598.95 292.0V299.7M599.40 292.0V299.5M599.85 292.0V323.4M600.00 292.0V317.0M600.45 292.0V323.8M600.90 292.0V326.8M601.35 292.0V308.0M601.80 292.0V310.1M602.25 292.0V324.9M602.70 292.0V330.0M603.15 292.0V303.0M603.60 292.0V333.3M604.50 292.0V315.2M604.95 292.0V302.1M605.40 292.0V326.9M605.85 292.0V326.0M606.30 292.0V324.8M606.75 292.0V318.6M607.20 292.0V306.3M607.65 292.0V325.7M608.55 292.0V309.7M609.90 292.0V335.4M610.35 292.0V317.5M610.80 292.0V305.2M611.70 292.0V329.6M612.15 292.0V309.3M613.05 292.0V329.5M613.50 292.0V325.1M613.95 292.0V313.6M614.40 292.0V330.6M614.85 292.0V327.8M615.00 292.0V305.0M615.45 292.0V307.3M615.90 292.0V304.0M616.35 292.0V314.7M616.80 292.0V304.4M617.25 292.0V324.0M617.70 292.0V319.3M618.15 292.0V308.0M618.60 292.0V312.1M619.05 292.0V307.1M619.50 292.0V320.7M619.95 292.0V315.8M620.40 292.0V320.8M620.85 292.0V306.9M621.30 292.0V320.8M621.50 292.0V301.2M621.95 292.0V301.1M622.40 292.0V298.4M689.60 292.0V306.9M690.05 292.0V310.0M690.50 292.0V309.7M690.95 292.0V306.3M691.40 292.0V305.1M691.85 292.0V307.2M692.30 292.0V303.7M699.35 292.0V305.6M700.25 292.0V298.4M701.60 292.0V299.2M702.50 292.0V309.3M702.95 292.0V301.4M703.85 292.0V300.1M704.75 292.0V303.9M705.65 292.0V310.3M706.10 292.0V308.0M707.00 292.0V307.9M707.45 292.0V310.9M707.90 292.0V304.3M709.25 292.0V312.9M709.70 292.0V307.9M710.15 292.0V307.7M710.60 292.0V304.6M711.05 292.0V312.3M712.40 292.0V302.2M712.85 292.0V309.8M713.30 292.0V309.6M715.10 292.0V315.6M715.55 292.0V317.9M716.00 292.0V298.6M716.90 292.0V307.0M717.80 292.0V313.1M718.25 292.0V300.2M718.70 292.0V302.9M719.15 292.0V298.4M719.60 292.0V306.5M720.05 292.0V305.0M720.50 292.0V314.4M720.95 292.0V311.2M721.40 292.0V309.2M721.85 292.0V302.6M722.30 292.0V308.5M722.75 292.0V311.3M723.20 292.0V310.9M723.65 292.0V306.9M724.10 292.0V303.5M724.55 292.0V307.4M725.45 292.0V302.3M726.35 292.0V307.8M727.25 292.0V303.1M727.70 292.0V311.9M728.15 292.0V301.8M728.60 292.0V302.6M729.05 292.0V305.6M729.50 292.0V304.7M729.95 292.0V307.0M730.00 292.0V306.7M730.45 292.0V304.5M731.35 292.0V314.9M731.80 292.0V315.2M732.25 292.0V303.7M734.05 292.0V322.9M734.50 292.0V301.6M735.40 292.0V299.2M736.30 292.0V314.2M736.75 292.0V298.4M737.20 292.0V299.6M737.65 292.0V310.8M738.55 292.0V319.3M739.00 292.0V303.0M740.80 292.0V301.7M741.25 292.0V317.9M742.15 292.0V308.0M742.60 292.0V308.3M743.05 292.0V305.5M744.85 292.0V300.6M745.30 292.0V321.2M746.20 292.0V298.4M746.65 292.0V311.4M747.55 292.0V316.4M748.45 292.0V302.6M748.90 292.0V313.4M751.15 292.0V308.4M751.60 292.0V298.4M752.05 292.0V300.1M752.50 292.0V310.4M752.95 292.0V307.6M753.85 292.0V302.4M754.30 292.0V315.5M754.75 292.0V309.7M755.65 292.0V307.9M756.10 292.0V304.2M756.55 292.0V307.3M761.45 292.0V298.4M761.90 292.0V317.5M762.35 292.0V314.5M762.80 292.0V300.8M763.25 292.0V316.2M764.15 292.0V304.7M765.50 292.0V313.2M765.95 292.0V311.7M766.40 292.0V302.4M767.30 292.0V310.6M770.20 292.0V321.5M770.65 292.0V310.8M771.10 292.0V300.1M772.90 292.0V308.7M774.25 292.0V313.4M774.70 292.0V316.9M775.15 292.0V303.5M775.60 292.0V314.6M776.05 292.0V317.2M777.40 292.0V310.1M777.85 292.0V309.3M778.30 292.0V315.4M778.75 292.0V309.7M779.65 292.0V318.6M780.10 292.0V316.8M780.55 292.0V311.1M781.45 292.0V314.1M781.90 292.0V302.2M782.35 292.0V317.2M785.05 292.0V298.8M785.95 292.0V316.4M786.85 292.0V314.9M787.30 292.0V321.9M787.75 292.0V317.1M788.20 292.0V318.5M789.10 292.0V314.4M789.55 292.0V312.1M790.00 292.0V303.9M791.80 292.0V307.8M792.70 292.0V302.0M793.15 292.0V298.4M793.60 292.0V305.4M794.05 292.0V303.8M794.50 292.0V302.2M794.95 292.0V298.4M795.40 292.0V307.6M796.30 292.0V298.4M796.75 292.0V301.1M797.20 292.0V306.8M797.65 292.0V304.2M798.10 292.0V314.3M798.55 292.0V298.4M799.00 292.0V301.6M799.90 292.0V299.2M800.35 292.0V313.7M800.80 292.0V314.5M802.15 292.0V317.2M802.60 292.0V298.9M803.50 292.0V300.4M803.95 292.0V321.5M804.40 292.0V301.6M804.85 292.0V298.8M805.75 292.0V302.5M806.20 292.0V305.3M806.65 292.0V317.5M808.00 292.0V307.1M808.45 292.0V310.5M809.35 292.0V315.8M811.40 292.0V299.9M812.30 292.0V316.5M813.20 292.0V315.5M814.10 292.0V313.3M815.00 292.0V319.7M815.45 292.0V299.4M816.35 292.0V300.7M817.25 292.0V305.4M817.70 292.0V298.4M819.05 292.0V315.0M819.95 292.0V314.9M820.85 292.0V299.7M821.30 292.0V302.0M821.75 292.0V306.0M822.20 292.0V304.2M822.65 292.0V306.5M823.10 292.0V300.0M824.45 292.0V299.3M824.90 292.0V301.1M825.35 292.0V306.1M825.80 292.0V306.4M826.25 292.0V300.9M826.70 292.0V307.0M827.15 292.0V299.2M828.50 292.0V307.1M828.95 292.0V318.5M829.40 292.0V307.4M830.30 292.0V317.1M831.20 292.0V303.1M831.65 292.0V309.7M834.20 292.0V304.5M834.65 292.0V300.8M836.00 292.0V315.6M836.45 292.0V301.2M836.90 292.0V299.5M837.35 292.0V305.5M837.80 292.0V298.4M838.25 292.0V298.4M839.15 292.0V311.6M839.60 292.0V298.4M840.05 292.0V303.4M841.40 292.0V310.1M841.85 292.0V298.4M842.75 292.0V314.8M843.20 292.0V306.5M844.10 292.0V319.1M845.00 292.0V309.9M845.45 292.0V314.3M845.90 292.0V313.5M846.80 292.0V304.6M847.25 292.0V312.4M847.70 292.0V304.2M848.15 292.0V301.5M848.60 292.0V316.4M849.05 292.0V314.3M849.50 292.0V303.9M849.95 292.0V308.3M850.85 292.0V304.3M851.30 292.0V309.8M852.20 292.0V300.9M852.65 292.0V321.0M853.10 292.0V298.4M853.55 292.0V300.7M854.45 292.0V302.2M854.90 292.0V302.1M856.25 292.0V302.8M857.15 292.0V311.0M858.05 292.0V300.5M859.40 292.0V306.3M859.85 292.0V310.3M860.30 292.0V317.6M860.75 292.0V308.1M861.20 292.0V300.1M861.65 292.0V300.2M862.55 292.0V311.3M863.00 292.0V302.4M863.90 292.0V314.6M864.35 292.0V319.6M865.25 292.0V320.7M866.60 292.0V316.2M867.50 292.0V298.4M867.95 292.0V315.4M868.40 292.0V316.0M869.30 292.0V298.4M869.75 292.0V298.6M870.20 292.0V300.6M870.65 292.0V317.3M872.00 292.0V315.1M873.80 292.0V299.6M874.25 292.0V312.2M874.70 292.0V314.6M875.60 292.0V302.6M876.05 292.0V316.4M876.50 292.0V315.4M876.95 292.0V303.4M877.40 292.0V310.9M877.85 292.0V317.1M878.75 292.0V303.2M880.10 292.0V310.6M881.00 292.0V309.5M881.45 292.0V314.2M882.35 292.0V303.3M882.80 292.0V305.2M883.25 292.0V319.3M883.70 292.0V313.8M884.15 292.0V319.1M884.60 292.0V313.2M886.70 292.0V312.0M887.15 292.0V299.4M887.60 292.0V300.5M888.50 292.0V300.4M888.95 292.0V301.3M889.40 292.0V306.7M890.30 292.0V316.9M890.75 292.0V313.1M891.20 292.0V301.3M891.65 292.0V311.5M892.10 292.0V309.5M892.55 292.0V298.4M893.45 292.0V306.4M893.90 292.0V311.1M894.35 292.0V313.2M894.80 292.0V304.1M895.25 292.0V303.4M896.60 292.0V313.7M897.05 292.0V305.9M897.95 292.0V298.4M898.40 292.0V308.9M898.85 292.0V298.4M899.30 292.0V301.8M900.65 292.0V298.4M901.55 292.0V305.9M902.00 292.0V304.8M902.45 292.0V314.0M903.80 292.0V306.9M904.70 292.0V298.5M906.05 292.0V308.4M906.95 292.0V304.8M907.40 292.0V316.6M907.85 292.0V311.6M940.60 292.0V282.5M941.05 292.0V284.0M941.50 292.0V285.6M941.95 292.0V285.6M942.40 292.0V282.6M942.85 292.0V285.6M943.30 292.0V284.5M943.75 292.0V283.9M952.70 292.0V281.2M953.15 292.0V282.3M953.60 292.0V284.7M978.30 292.0V285.6M978.75 292.0V283.5M979.20 292.0V285.6M979.65 292.0V283.5M980.10 292.0V278.8M1001.80 292.0V281.3M1002.25 292.0V285.6M1002.70 292.0V285.6M1003.15 292.0V285.6M1003.60 292.0V280.6M1004.05 292.0V281.7M1004.50 292.0V283.2M1004.95 292.0V283.8M1005.40 292.0V285.4M1005.85 292.0V285.4M1012.50 292.0V280.0M1012.95 292.0V280.7M1013.40 292.0V279.3M1013.85 292.0V279.3M1032.50 292.0V300.4M1033.40 292.0V301.8M1033.85 292.0V302.1M1036.70 292.0V303.4M1037.15 292.0V306.9M1037.60 292.0V306.8M1038.05 292.0V302.7M1043.80 292.0V304.2M1044.25 292.0V302.9M1044.70 292.0V307.1M1045.15 292.0V302.4M1056.70 292.0V305.5M1057.15 292.0V299.8M1057.60 292.0V300.1M1058.05 292.0V304.6M1058.50 292.0V298.9M1058.95 292.0V299.3M1059.40 292.0V298.8M1059.85 292.0V304.7M1060.30 292.0V300.0M1068.50 292.0V309.8M1068.95 292.0V299.8M1069.40 292.0V309.3M1069.85 292.0V306.8M1078.85 292.0V314.3M1079.30 292.0V311.8M1080.20 292.0V306.3M1104.00 292.0V306.5M1104.45 292.0V310.4M1104.90 292.0V310.9M1105.80 292.0V304.6M1106.25 292.0V299.5M1106.70 292.0V318.3M1107.15 292.0V318.5M1107.60 292.0V307.8M1108.05 292.0V299.8M1108.95 292.0V313.3M1109.40 292.0V300.6M1109.85 292.0V320.1M1110.30 292.0V316.6M1110.75 292.0V321.1M1111.20 292.0V315.5M1111.65 292.0V321.2M1113.00 292.0V303.7M1113.45 292.0V307.6M1113.90 292.0V305.7M1114.80 292.0V314.5M1115.25 292.0V307.8M1115.70 292.0V320.6M1116.15 292.0V315.2M1116.60 292.0V315.7M1117.05 292.0V308.3M1117.50 292.0V313.2M1117.95 292.0V299.5M1119.75 292.0V313.3M1120.20 292.0V313.5M1121.10 292.0V306.3M1121.55 292.0V309.2M1122.00 292.0V305.1M1122.45 292.0V311.1M1123.35 292.0V303.3M1126.30 292.0V308.7M1127.20 292.0V304.1M1127.65 292.0V316.4M1128.55 292.0V305.4M1129.00 292.0V308.6M1129.45 292.0V309.9M1130.80 292.0V308.4M1131.25 292.0V314.7M1131.70 292.0V314.0M1132.15 292.0V303.0M1133.05 292.0V315.5M1133.50 292.0V315.5M1133.95 292.0V300.0M1134.40 292.0V316.9M1134.85 292.0V300.2M1135.90 292.0V298.4M1136.80 292.0V303.5M1137.25 292.0V304.3M1137.70 292.0V304.3M1029.35 292.0V298.4M1029.80 292.0V305.3M1030.25 292.0V303.3M1030.70 292.0V304.3M1031.15 292.0V298.4M1032.95 292.0V298.4M1033.85 292.0V298.4M1034.30 292.0V305.3M1035.65 292.0V305.6M1036.10 292.0V304.4M1037.90 292.0V299.5M1038.35 292.0V303.8M1038.80 292.0V298.4M1076.45 292.0V302.7M1076.90 292.0V308.4M1077.80 292.0V300.9M1078.70 292.0V306.3M1079.15 292.0V298.4M1080.95 292.0V302.0M1081.40 292.0V301.4M1083.65 292.0V307.4M1084.55 292.0V311.1M683.30 292.0V306.1M684.80 292.0V306.7M686.20 292.0V306.1M687.70 292.0V307.4M81.40 292.0V267.7M84.20 292.0V266.0M86.70 292.0V268.3M96.40 292.0V264.5M99.50 292.0V264.2M103.00 292.0V261.3M104.90 292.0V242.9M105.30 292.0V266.4M113.40 292.0V266.0M116.30 292.0V268.3M118.40 292.0V258.1M123.10 292.0V255.5M128.40 292.0V258.1M132.20 292.0V262.6M134.80 292.0V266.4M139.00 292.0V266.7M161.40 292.0V257.4M163.60 292.0V262.6M168.30 292.0V264.5M170.70 292.0V260.3M173.60 292.0V258.7M179.20 292.0V259.4M191.50 292.0V267.7M196.80 292.0V262.6M206.30 292.0V263.2M214.20 292.0V250.8M215.30 292.0V260.3M218.60 292.0V255.5M226.00 292.0V263.2M228.10 292.0V260.0M230.50 292.0V264.5M238.50 292.0V253.6M241.40 292.0V251.4M245.30 292.0V253.0M249.00 292.0V250.4M252.10 292.0V261.3M255.70 292.0V269.6M258.20 292.0V269.0M263.50 292.0V285.9M260.60 292.0V328.5M263.20 292.0V324.0M266.60 292.0V342.6M269.50 292.0V319.5M276.60 292.0V340.3M278.70 292.0V340.3M284.40 292.0V325.0M286.60 292.0V335.2M289.10 292.0V333.6M293.00 292.0V334.2M297.70 292.0V330.4M303.10 292.0V323.4M312.60 292.0V309.9M314.80 292.0V302.2M323.80 292.0V312.2M325.50 292.0V304.2M341.90 292.0V316.0M346.10 292.0V309.3M349.00 292.0V308.6M354.00 292.0V299.7M379.60 292.0V295.2M386.30 292.0V308.6M389.90 292.0V301.6M346.10 292.0V282.4M383.40 292.0V288.8M388.60 292.0V276.2M389.60 292.0V281.8M392.40 292.0V269.0M394.60 292.0V281.1M399.50 292.0V285.9M401.70 292.0V278.6M401.90 292.0V278.6M407.70 292.0V273.8M407.80 292.0V273.8M409.00 292.0V270.2M410.30 292.0V273.1M413.50 292.0V277.3M415.20 292.0V273.8M417.40 292.0V277.3M419.20 292.0V285.9M421.10 292.0V282.4M423.90 292.0V288.8M426.40 292.0V285.9M431.60 292.0V281.1M432.50 292.0V268.5M433.10 292.0V268.5M434.90 292.0V284.0M440.30 292.0V270.2M442.50 292.0V284.0M445.60 292.0V284.3M446.40 292.0V279.5M450.60 292.0V285.9M452.40 292.0V270.7M453.40 292.0V276.2M459.30 292.0V281.1M460.40 292.0V284.0M462.40 292.0V278.6M466.20 292.0V285.9M468.80 292.0V278.6M541.00 292.0V284.0M543.40 292.0V276.6M546.40 292.0V285.9M549.90 292.0V288.8M561.40 292.0V275.4M568.10 292.0V282.4M586.00 292.0V288.8M617.50 292.0V281.1M661.60 292.0V285.9M678.20 292.0V276.0M729.50 292.0V285.9M412.40 292.0V308.6M426.40 292.0V311.2M448.40 292.0V297.6M469.80 292.0V302.7M472.00 292.0V295.2M478.80 292.0V304.2M479.50 292.0V297.8M481.50 292.0V306.1M485.00 292.0V297.6M495.90 292.0V299.7M521.80 292.0V297.6M526.80 292.0V299.7M568.10 292.0V302.7M577.00 292.0V322.1M581.00 292.0V324.0M584.00 292.0V341.3M590.30 292.0V333.6M594.20 292.0V327.2M596.30 292.0V338.5M599.20 292.0V339.4M604.40 292.0V347.5M607.70 292.0V340.6M612.00 292.0V338.5M621.00 292.0V327.2M644.50 292.0V304.4M654.40 292.0V308.6M661.60 292.0V297.6M663.60 292.0V299.7M668.30 292.0V301.6M695.30 292.0V312.2M704.60 292.0V318.6M710.60 292.0V320.2M714.60 292.0V325.3M719.30 292.0V328.3M726.40 292.0V323.4M733.60 292.0V333.3M737.10 292.0V326.6M731.40 292.0V327.2M751.00 292.0V318.6M755.40 292.0V329.1M765.60 292.0V320.2M776.30 292.0V322.1M778.40 292.0V324.0M785.50 292.0V320.2M789.50 292.0V319.5M799.50 292.0V329.1M805.80 292.0V334.2M813.30 292.0V322.1M835.40 292.0V319.5M843.20 292.0V327.2M847.50 292.0V321.4M852.50 292.0V319.5M856.80 292.0V325.3M864.30 292.0V324.0M867.50 292.0V320.8M875.30 292.0V325.3M879.60 292.0V319.5M893.10 292.0V317.6M896.00 292.0V322.4M897.10 292.0V322.4M905.40 292.0V319.5M907.80 292.0V306.7M910.70 292.0V309.9M757.80 292.0V284.0M760.30 292.0V279.5M783.80 292.0V282.4M791.40 292.0V276.6M793.80 292.0V288.8M811.60 292.0V276.0M831.40 292.0V285.9M844.40 292.0V285.9M872.50 292.0V273.8M881.40 292.0V285.9M915.40 292.0V284.0M929.90 292.0V278.6M934.30 292.0V276.0M938.10 292.0V282.4M943.40 292.0V273.8M949.10 292.0V278.6M950.50 292.0V282.4M955.50 292.0V258.5M958.10 292.0V281.1M961.90 292.0V273.8M964.40 292.0V272.2M966.60 292.0V277.3M969.10 292.0V272.8M973.80 292.0V274.1M979.30 292.0V263.5M983.40 292.0V276.6M990.60 292.0V284.0M992.30 292.0V265.6M993.20 292.0V265.6M995.50 292.0V284.3M996.10 292.0V277.3M999.40 292.0V285.9M1000.40 292.0V269.8M1003.50 292.0V270.7M1007.90 292.0V276.0M1008.90 292.0V281.1M1010.70 292.0V263.4M1015.10 292.0V273.1M1018.30 292.0V272.8M1065.60 292.0V282.4M1073.20 292.0V267.0M960.20 292.0V304.2M975.90 292.0V311.2M987.60 292.0V309.9M1005.70 292.0V295.2M1026.30 292.0V308.6M1028.20 292.0V308.0M1030.30 292.0V307.4M1039.80 292.0V304.2M1043.10 292.0V322.4M1047.10 292.0V302.2M1049.50 292.0V309.9M1052.40 292.0V304.2M1058.80 292.0V312.2M1065.30 292.0V301.6M1069.20 292.0V323.4M1072.50 292.0V297.6M1074.60 292.0V307.4M1084.40 292.0V312.5M1100.80 292.0V297.6M1106.50 292.0V318.6M1108.30 292.0V322.7M1115.20 292.0V322.7M1119.30 292.0V329.1M1128.30 292.0V326.6M1136.50 292.0V320.8" stroke="#000" stroke-width="0.78" fill="none"/>
<rect x="81.3" y="291.0" width="1056.7" height="1.8" fill="#4d4d4d"/>
<path d="M600.4 292.0V347.7" stroke="#f00" stroke-width="0.75" fill="none"/>
<path d="M618.5 292.0V347.7" stroke="#f00" stroke-width="0.75" fill="none"/>
<text x="610.2" y="422.8" font-size="9.25" font-weight="bold" text-anchor="middle" letter-spacing="0.22">Annotations</text>
<path d="M47 453.5H253.8M247.56 449.9L253.8 453.5L247.56 457.1" stroke="#00f" stroke-width="0.75" fill="none"/>
<text x="150.4" y="450" font-size="7.4" text-anchor="middle" fill="#00f" stroke="#00f" stroke-width="0.25" letter-spacing="0"><tspan font-size="7.4">gene&#160;</tspan><tspan font-size="7.9">YBR</tspan><tspan font-size="6.0" letter-spacing="0.33">084</tspan><tspan font-size="7.9">W</tspan></text>
<path d="M344 464H267.6M273.84000000000003 460.4L267.6 464L273.84000000000003 467.6" stroke="#00f" stroke-width="0.75" fill="none"/>
<text x="305.8" y="461" font-size="7.4" text-anchor="middle" fill="#00f" stroke="#00f" stroke-width="0.25" letter-spacing="0"><tspan font-size="7.4">gene&#160;</tspan><tspan font-size="7.9">YBR</tspan><tspan font-size="6.0" letter-spacing="0.33">084</tspan><tspan font-size="7.9">C</tspan><tspan font-size="7.4">-</tspan><tspan font-size="7.9">A</tspan></text>
<path d="M394 453.5H460M453.76 449.9L460 453.5L453.76 457.1" stroke="#00f" stroke-width="0.75" fill="none"/>
<text x="427.0" y="450" font-size="7.4" text-anchor="middle" fill="#00f" stroke="#00f" stroke-width="0.25" letter-spacing="0"><tspan font-size="7.4">gene&#160;</tspan><tspan font-size="7.9">YBR</tspan><tspan font-size="6.0" letter-spacing="0.33">085</tspan><tspan font-size="7.9">W</tspan></text>
<path d="M618.6 464H600M606.24 460.4L600 464L606.24 467.6" stroke="#00f" stroke-width="0.75" fill="none"/>
<text x="609.3" y="461" font-size="7.4" text-anchor="middle" fill="#00f" stroke="#00f" stroke-width="0.25" letter-spacing="0"><tspan font-size="7.4">gene&#160;</tspan><tspan font-size="7.9">YBR</tspan><tspan font-size="6.0" letter-spacing="0.33">085</tspan><tspan font-size="7.9">C</tspan><tspan font-size="7.4">-</tspan><tspan font-size="7.9">A</tspan></text>
<path d="M892 464H691M697.24 460.4L691 464L697.24 467.6" stroke="#00f" stroke-width="0.75" fill="none"/>
<text x="791.5" y="461" font-size="7.4" text-anchor="middle" fill="#00f" stroke="#00f" stroke-width="0.25" letter-spacing="0"><tspan font-size="7.4">gene&#160;</tspan><tspan font-size="7.9">YBR</tspan><tspan font-size="6.0" letter-spacing="0.33">086</tspan><tspan font-size="7.9">C</tspan></text>
<path d="M942 453.5H1018M1011.76 449.9L1018 453.5L1011.76 457.1" stroke="#00f" stroke-width="0.75" fill="none"/>
<text x="980.0" y="450" font-size="7.4" text-anchor="middle" fill="#00f" stroke="#00f" stroke-width="0.25" letter-spacing="0"><tspan font-size="7.4">gene&#160;</tspan><tspan font-size="7.9">YBR</tspan><tspan font-size="6.0" letter-spacing="0.33">087</tspan><tspan font-size="7.9">W</tspan></text>
<path d="M1042.5 453.5H1085.5M1079.26 449.9L1085.5 453.5L1079.26 457.1" stroke="#00f" stroke-width="0.75" fill="none"/>
<text x="1064.0" y="450" font-size="7.4" text-anchor="middle" fill="#00f" stroke="#00f" stroke-width="0.25" letter-spacing="0"><tspan font-size="7.4">gene&#160;</tspan><tspan font-size="7.9">YBR</tspan><tspan font-size="6.0" letter-spacing="0.33">089</tspan><tspan font-size="7.9">W</tspan></text>
<path d="M1083.8 464H1028.8M1035.04 460.4L1028.8 464L1035.04 467.6" stroke="#00f" stroke-width="0.75" fill="none"/>
<text x="1056.3" y="461" font-size="7.4" text-anchor="middle" fill="#00f" stroke="#00f" stroke-width="0.25" letter-spacing="0"><tspan font-size="7.4">gene&#160;</tspan><tspan font-size="7.9">YBR</tspan><tspan font-size="6.0" letter-spacing="0.33">088</tspan><tspan font-size="7.9">C</tspan></text>
<path d="M1161.7 464H1113.3M1119.54 460.4L1113.3 464L1119.54 467.6" stroke="#00f" stroke-width="0.75" fill="none"/>
<text x="1137.5" y="461" font-size="7.4" text-anchor="middle" fill="#00f" stroke="#00f" stroke-width="0.25" letter-spacing="0"><tspan font-size="7.4">gene&#160;</tspan><tspan font-size="7.9">YBR</tspan><tspan font-size="6.0" letter-spacing="0.33">089</tspan><tspan font-size="7.9">C</tspan><tspan font-size="7.4">-</tspan><tspan font-size="7.9">A</tspan></text>
<path d="M1175 464H1123.3M1129.54 460.4L1123.3 464L1129.54 467.6" stroke="#00f" stroke-width="0.75" fill="none"/>
<text x="1149.15" y="461" font-size="7.4" text-anchor="middle" fill="#00f" stroke="#00f" stroke-width="0.25" letter-spacing="0"><tspan font-size="7.4">gene&#160;</tspan><tspan font-size="7.9">YBR</tspan><tspan font-size="6.0" letter-spacing="0.33">090</tspan><tspan font-size="7.9">C</tspan></text>
<path d="M925 516H942M935.76 512.4L942 516L935.76 519.6" stroke="#000" stroke-width="0.75" fill="none"/>
<text x="933" y="513.8" font-size="7.4" text-anchor="middle" fill="#000" stroke="#000" stroke-width="0.25" letter-spacing="0.2"><tspan font-size="7.9">CUT</tspan><tspan font-size="7.4">&#160;</tspan><tspan font-size="7.9">CUT</tspan><tspan font-size="6.4" letter-spacing="0.33">024</tspan></text>
<path d="M501 547.5H467.4M473.64 543.9L467.4 547.5L473.64 551.1" stroke="#f00" stroke-width="0.75" fill="none"/>
<text x="484.6" y="544.6" font-size="7.4" text-anchor="middle" fill="#f00" stroke="#f00" stroke-width="0.25" letter-spacing="0.1"><tspan font-size="7.9">XUT</tspan><tspan font-size="7.4">&#160;</tspan><tspan font-size="6.8" letter-spacing="0.33">2</tspan><tspan font-size="7.9">R</tspan><tspan font-size="7.4">-</tspan><tspan font-size="6.8" letter-spacing="0.33">183</tspan></text>
<text x="609.9" y="622.9" font-size="9.25" font-weight="bold" text-anchor="middle">Legend</text>
<path d="M477 664H742M735.76 660.4L742 664L735.76 667.6" stroke="#00f" stroke-width="0.75" fill="none"/>
<text x="609.5" y="655" font-size="7.4" text-anchor="middle" fill="#00f" stroke="#00f" stroke-width="0.25" letter-spacing="0"><tspan font-size="7.4">genes</tspan></text>
<path d="M477 705.5H742M735.76 701.9L742 705.5L735.76 709.1" stroke="#f00" stroke-width="0.75" fill="none"/>
<text x="610" y="697.5" font-size="7.4" text-anchor="middle" fill="#f00" stroke="#f00" stroke-width="0.25" letter-spacing="0.35"><tspan font-size="7.9">XUT</tspan><tspan font-size="7.4">s</tspan></text>
<path d="M477 747.5H742M735.76 743.9L742 747.5L735.76 751.1" stroke="#000" stroke-width="0.75" fill="none"/>
<text x="609.5" y="739.5" font-size="7.4" text-anchor="middle" fill="#000" stroke="#000" stroke-width="0.25" letter-spacing="0"><tspan font-size="7.4">other</tspan></text>
</svg></body></html>
